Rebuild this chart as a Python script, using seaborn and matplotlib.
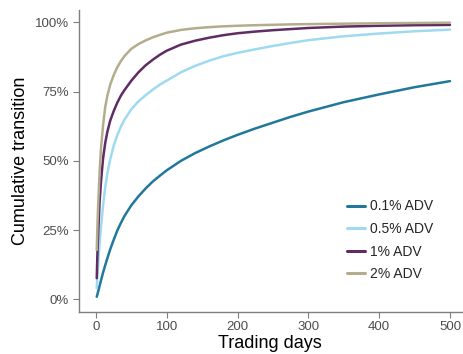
import numpy as np
import pandas as pd
import seaborn as sns
import matplotlib.pyplot as plt
from matplotlib.ticker import PercentFormatter

# trading days at which the curves were read
days = [1, 2, 3, 5, 7, 10, 13, 16, 20, 25, 30, 35, 40, 50, 60, 70, 80, 90, 100,
        120, 140, 160, 180, 200, 225, 250, 275, 300, 350, 400, 450, 500]

# cumulative transition (%) per participation rate
adv_01 = [0.9, 1.8, 2.8, 4.8, 6.8, 9.7, 12.3, 14.8, 18.0, 21.5, 24.8, 27.5, 30.0, 34.0, 37.2, 40.0,
          42.5, 44.6, 46.6, 50.0, 52.8, 55.2, 57.4, 59.4, 61.7, 63.8, 65.9, 67.8, 71.2, 74.0, 76.6, 78.8]
adv_05 = [4.0, 9.0, 13.0, 20.0, 26.0, 34.0, 40.5, 45.5, 50.5, 55.5, 59.3, 62.3, 64.8, 68.7, 71.5, 73.7,
          75.7, 77.5, 79.0, 82.0, 84.3, 86.2, 87.8, 89.0, 90.3, 91.5, 92.6, 93.6, 95.0, 96.0, 96.8, 97.4]
adv_1 = [7.6, 17.0, 23.5, 35.0, 42.5, 51.0, 56.5, 60.5, 64.5, 68.0, 71.0, 73.5, 75.5, 79.0, 82.0, 84.5,
         86.5, 88.3, 89.8, 92.0, 93.4, 94.5, 95.4, 96.1, 96.7, 97.2, 97.6, 98.0, 98.5, 98.8, 99.0, 99.1]
adv_2 = [17.8, 27.0, 34.0, 46.0, 54.5, 63.0, 69.5, 73.5, 77.5, 81.0, 83.8, 86.0, 87.8, 90.5, 92.2, 93.5,
         94.6, 95.5, 96.3, 97.3, 97.9, 98.3, 98.6, 98.8, 99.0, 99.15, 99.3, 99.4, 99.55, 99.7, 99.8, 99.9]

labels = ["0.1% ADV", "0.5% ADV", "1% ADV", "2% ADV"]
colors = ["#21789a", "#9fdaf0", "#5f2c64", "#b3ad8e"]

frames = []
for lab, vals in zip(labels, [adv_01, adv_05, adv_1, adv_2]):
    frames.append(pd.DataFrame({"day": days, "value": np.array(vals) / 100, "series": lab}))
df = pd.concat(frames, ignore_index=True)

sns.set_style("white")
plt.rcParams['font.family'] = ['Liberation Sans', 'DejaVu Sans']

fig = plt.figure(figsize=(4.64, 3.54), dpi=100)
ax = fig.add_axes([0.1696, 0.1195, 0.9957 - 0.1696, 0.9718 - 0.1195])

sns.lineplot(data=df, x="day", y="value", hue="series", hue_order=labels,
             palette=colors, linewidth=1.8, ax=ax)

ax.set_xlim(-24.5, 517)
ax.set_ylim(-0.045, 1.045)
ax.set_xticks([0, 100, 200, 300, 400, 500])
ax.set_yticks([0, 0.25, 0.5, 0.75, 1.0])
ax.yaxis.set_major_formatter(PercentFormatter(1.0, decimals=0))

ax.set_xlabel("Trading days", fontsize=13, color="black", labelpad=1)
ax.set_ylabel("Cumulative transition", fontsize=13, color="black", labelpad=4)
ax.tick_params(axis="both", direction="out", length=4, width=0.8, color="#7f7f7f",
               labelsize=9.5, labelcolor="#4d4d4d", bottom=True, left=True, pad=3)

for s in ["top", "right"]:
    ax.spines[s].set_visible(False)
for s in ["left", "bottom"]:
    ax.spines[s].set_color("#7f7f7f")
    ax.spines[s].set_linewidth(1.0)

leg = ax.legend(loc="upper left", bbox_to_anchor=(335 / 464, 1 - 187 / 354),
                bbox_transform=fig.transFigure, frameon=False, fontsize=10,
                handlelength=1.25, handletextpad=0.4, labelspacing=0.62, title=None)
for line in leg.get_lines():
    line.set_linewidth(2.2)

fig.savefig("out.png", dpi=100)
